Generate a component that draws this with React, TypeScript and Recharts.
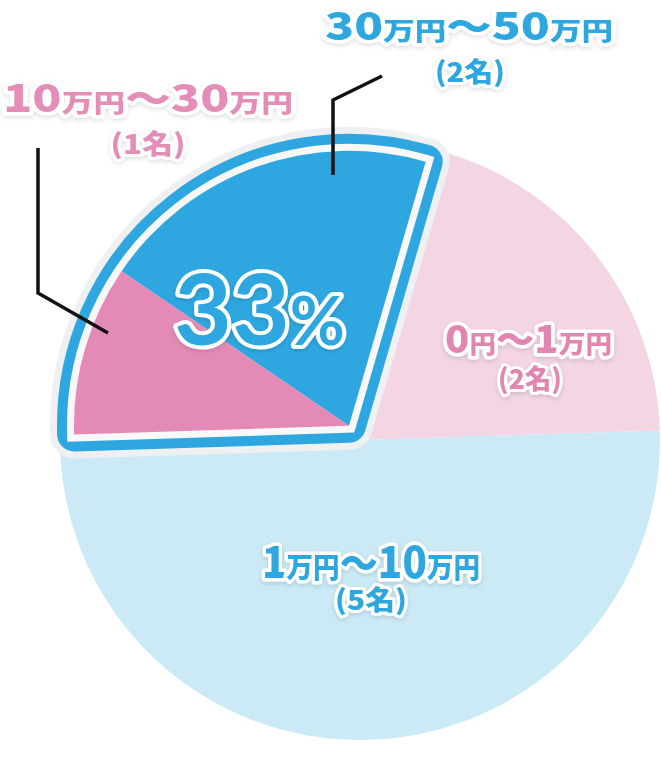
import React from "react";
import { PieChart, Pie, Cell } from "recharts";

// ---------- data ----------
const categories = ["0円〜1万円", "30万円〜50万円", "10万円〜30万円", "1万円〜10万円"];
const counts = [2, 2, 1, 5];
const highlighted = [false, true, true, false];
const highlightText = "33%";
const countLabel = (n: number) => `(${n}名)`;

// ---------- style ----------
const sliceColors = ["#f3d5e4", "#2ea7e0", "#e38bb6", "#cbeaf6"];
const textColors = ["#e086b1", "#2ea7e0", "#e48db7", "#2ea7e0"];
const BLUE = "#2ea7e0";
const W = 661;
const H = 771;
const BASE = { cx: 360, cy: 440, r: 300 };
const START = 1.8;
const GROUP = { offset: 18, r: 275, outer: 24, blue: 17, inner: 7, labelR: 146 };
const JP = "'Noto Sans CJK JP', 'Noto Sans', sans-serif";

// label layout relative to the pie centre
const labelLayout = [
  { x: 85, y: -87, w: 167, s: 1, x2: 170, y2: -51, w2: 64, leader: null as number[][] | null },
  { x: -35, y: -400, w: 288, s: 1, x2: 110, y2: -358, w2: 70, leader: [[-27, -265], [-27, -340], [22, -364]] },
  { x: -357, y: -328, w: 290, s: 1, x2: -212, y2: -286, w2: 75, leader: [[-252, -107], [-322, -147], [-322, -292]] },
  { x: -98, y: 138, w: 218, s: 1.12, x2: 11, y2: 170, w2: 72, leader: null },
];

// ---------- derived ----------
const sliceData = categories.map((name, i) => ({ name, value: counts[i], hl: highlighted[i] }));
const groupData: { name: string; value: number; hl: boolean }[] = [];
sliceData.forEach((d) => {
  const last = groupData[groupData.length - 1];
  if (last && last.hl === d.hl) {
    last.value += d.value;
    last.name += "+" + d.name;
  } else groupData.push({ name: d.name, value: d.value, hl: d.hl });
});
const total = counts.reduce((a, b) => a + b, 0);
let accum = 0;
let gStart = 0;
let gVal = 0;
groupData.forEach((g) => {
  if (g.hl) {
    gStart = accum;
    gVal = g.value;
  }
  accum += g.value;
});
const gMid = START + (360 * (gStart + gVal / 2)) / total;
const gRad = (gMid * Math.PI) / 180;
const gcx = BASE.cx + GROUP.offset * Math.cos(gRad);
const gcy = BASE.cy - GROUP.offset * Math.sin(gRad);

const runs = (s: string) => s.match(/\d+|〜|[^\d〜]+/g) || [];
const runSize = (r: string) => (/\d/.test(r) ? 38 : r === "〜" ? 36 : 25);

const renderSliceLabel = (p: any) => {
  let i = categories.indexOf(p.name ?? p.payload?.name);
  if (i < 0) i = p.index;
  const L = labelLayout[i];
  if (!L) return null;
  const cx = p.cx;
  const cy = p.cy;
  return (
    <g key={`lbl-${i}`}>
      {L.leader && (
        <polyline
          points={L.leader.map(([dx, dy]) => `${cx + dx},${cy + dy}`).join(" ")}
          fill="none"
          stroke="#111"
          strokeWidth={3.5}
        />
      )}
      <g filter="url(#txtShadow)">
        <text
          x={cx + L.x}
          y={cy + L.y}
          textLength={L.w}
          lengthAdjust="spacingAndGlyphs"
          fill={textColors[i]}
          stroke="#fff"
          strokeWidth={7}
          strokeLinejoin="round"
          paintOrder="stroke"
          fontFamily={JP}
          fontWeight={900}
        >
          {runs(categories[i]).map((r, k) => (
            <tspan key={k} fontSize={runSize(r) * L.s}>
              {r}
            </tspan>
          ))}
        </text>
        <text
          x={cx + L.x2 - L.w2 / 2}
          y={cy + L.y2}
          textLength={L.w2}
          lengthAdjust="spacingAndGlyphs"
          fill={textColors[i]}
          stroke="#fff"
          strokeWidth={6}
          strokeLinejoin="round"
          paintOrder="stroke"
          fontFamily={JP}
          fontWeight={900}
          fontSize={27}
        >
          {countLabel(counts[i])}
        </text>
      </g>
    </g>
  );
};

const renderGroupLabel = (p: any) => {
  const hl = p.payload?.hl ?? p.hl;
  if (!hl) return null;
  const a = (p.midAngle * Math.PI) / 180;
  const x = p.cx + GROUP.labelR * Math.cos(a);
  const y = p.cy - GROUP.labelR * Math.sin(a);
  return (
    <g key="grp-lbl" filter="url(#txtShadow)">
      <text
        x={x - 85.5}
        y={y + 35}
        textLength={171}
        lengthAdjust="spacingAndGlyphs"
        fill={BLUE}
        stroke="#fff"
        strokeWidth={8}
        strokeLinejoin="round"
        paintOrder="stroke"
        fontFamily="'Lato', 'Noto Sans', sans-serif"
        fontWeight={700}
      >
        <tspan fontSize={98}>{highlightText.replace("%", "")}</tspan>
        <tspan fontSize={66}>%</tspan>
      </text>
    </g>
  );
};

const bandLayer = (key: string, color: string, half: number, join: "round" | "miter") => (
  <Pie
    key={key}
    data={groupData}
    dataKey="value"
    cx={gcx}
    cy={gcy}
    outerRadius={GROUP.r}
    startAngle={START}
    endAngle={START + 360}
    isAnimationActive={false}
    stroke="none"
  >
    {groupData.map((g, i) => (
      <Cell
        key={i}
        fill={g.hl ? color : "none"}
        stroke={g.hl ? color : "none"}
        strokeWidth={g.hl ? half * 2 : 0}
        strokeLinejoin={join}
      />
    ))}
  </Pie>
);

export default function App() {
  return (
    <div style={{ position: "absolute", left: 0, top: 0, width: W, height: H, background: "#fff" }}>
      <svg width={0} height={0} style={{ position: "absolute" }}>
        <defs>
          <filter id="txtShadow" x="-20%" y="-30%" width="140%" height="160%">
            <feDropShadow dx="0" dy="2" stdDeviation="2" floodColor="#000" floodOpacity="0.13" />
          </filter>
        </defs>
      </svg>
      <PieChart width={W} height={H} margin={{ top: 0, right: 0, bottom: 0, left: 0 }}>
        <Pie
          data={sliceData}
          dataKey="value"
          cx={BASE.cx}
          cy={BASE.cy}
          outerRadius={BASE.r}
          startAngle={START}
          endAngle={START + 360}
          isAnimationActive={false}
          stroke="none"
        >
          {sliceData.map((d, i) => (
            <Cell key={i} fill={sliceColors[i]} stroke="none" />
          ))}
        </Pie>
        {bandLayer("outer", "#eff0f1", GROUP.outer, "round")}
        {bandLayer("blue", BLUE, GROUP.blue, "round")}
        {bandLayer("inner", "#f8f8f8", GROUP.inner, "miter")}
        <Pie
          data={sliceData}
          dataKey="value"
          cx={gcx}
          cy={gcy}
          outerRadius={GROUP.r}
          startAngle={START}
          endAngle={START + 360}
          isAnimationActive={false}
          stroke="none"
        >
          {sliceData.map((d, i) => (
            <Cell key={i} fill={d.hl ? sliceColors[i] : "none"} stroke="none" />
          ))}
        </Pie>
        <Pie
          data={groupData}
          dataKey="value"
          cx={gcx}
          cy={gcy}
          outerRadius={GROUP.r}
          startAngle={START}
          endAngle={START + 360}
          isAnimationActive={false}
          stroke="none"
          label={renderGroupLabel}
          labelLine={false}
        >
          {groupData.map((g, i) => (
            <Cell key={i} fill="none" stroke="none" />
          ))}
        </Pie>
        <Pie
          data={sliceData}
          dataKey="value"
          cx={BASE.cx}
          cy={BASE.cy}
          outerRadius={BASE.r}
          startAngle={START}
          endAngle={START + 360}
          isAnimationActive={false}
          stroke="none"
          label={renderSliceLabel}
          labelLine={false}
        >
          {sliceData.map((d, i) => (
            <Cell key={i} fill="none" stroke="none" />
          ))}
        </Pie>
      </PieChart>
    </div>
  );
}
